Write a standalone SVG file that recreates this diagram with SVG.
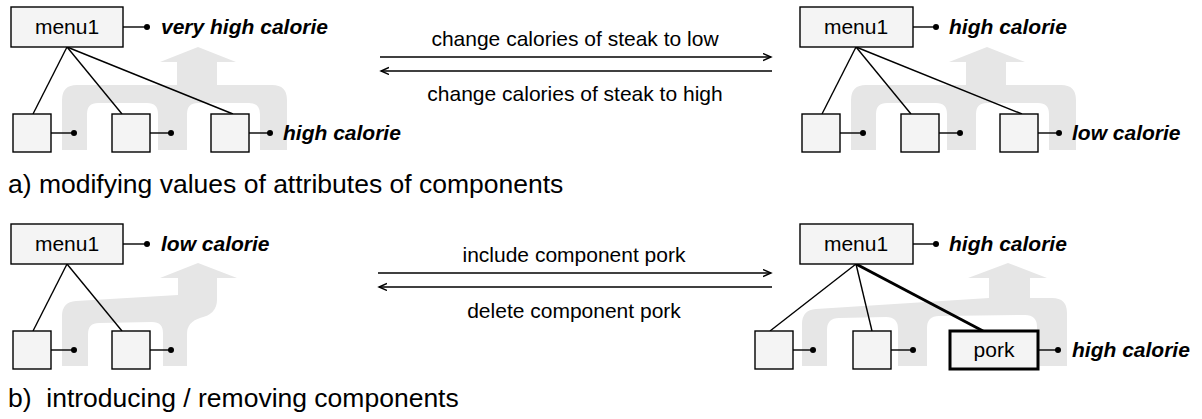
<svg xmlns="http://www.w3.org/2000/svg" width="1202" height="419" viewBox="0 0 1202 419">
<style>
.bg{fill:#ffffff}
.flow{fill:#e6e6e6;stroke:none}
.box{fill:#f4f4f4;stroke:#000;stroke-width:1.4}
.thick{fill:#f4f4f4;stroke:#000;stroke-width:3}
.ln{stroke:#000;stroke-width:1.4;fill:none}
.tl{stroke:#000;stroke-width:3;fill:none}
.dot{fill:#000}
.t{font-family:"Liberation Sans",Arial,sans-serif;font-size:21px;fill:#000}
.c{text-anchor:middle}
.attr{font-family:"Liberation Sans",Arial,sans-serif;font-size:21px;font-weight:bold;font-style:italic;fill:#000}
.cap{font-family:"Liberation Sans",Arial,sans-serif;font-size:26.5px;fill:#000}
</style>
<defs>
<marker id="ah" markerWidth="10" markerHeight="10" refX="8" refY="4" orient="auto" markerUnits="userSpaceOnUse">
<path d="M0,0.5 L8,4 L0,7.5" fill="none" stroke="#000" stroke-width="1.4"/>
</marker>
<path id="flow3" d="M62,150 L62,100 Q62,85 77,85 L177,85 L177,62 L160,62 L198,47 L236,62 L217,62 L217,85 L272,85 Q287,85 287,100 L287,150 L260,150 L260,114 Q260,103 249,103 L198,103 Q187,103 187,114 L187,150 L158,150 L158,114 Q158,103 147,103 L98,103 Q87,103 87,114 L87,150 Z"/>
</defs>
<rect class="bg" x="0" y="0" width="1202" height="419"/>

<g id="flows">
<use href="#flow3" class="flow"/>
<use href="#flow3" class="flow" transform="translate(789,0)"/>
<path class="flow" d="M62,366 L62,316 Q62,302 76,301 L178,295 L178,278 L160,278 L198,263 L237,278 L217,278 L217,300 Q217,314 200,318 Q187,322 187,334 L187,366 L163,366 L163,333 Q163,322 152,322 L99,323 Q88,323 88,334 L88,366 Z"/>
<path class="flow" d="M802,366 L802,324 Q802,310 816,309 L989,298 L989,278 L968,278 L1008,263 L1047,278 L1030,278 L1030,298 L1052,298 Q1067,298 1067,313 L1067,366 L1037,366 L1037,327 Q1037,315 1025,315 L939,316 Q927,316 927,328 L927,366 L898,366 L898,329 Q898,317 886,317 L839,318 Q827,318 827,330 L827,366 Z"/>
</g>

<g id="connectors">
<line class="ln" x1="67" y1="47" x2="33" y2="114"/>
<line class="ln" x1="67" y1="47" x2="122" y2="114"/>
<line class="ln" x1="67" y1="47" x2="233" y2="114"/>
<line class="ln" x1="856" y1="47" x2="822" y2="114"/>
<line class="ln" x1="856" y1="47" x2="911" y2="114"/>
<line class="ln" x1="856" y1="47" x2="1022" y2="114"/>
<line class="ln" x1="67" y1="264" x2="33" y2="331"/>
<line class="ln" x1="67" y1="264" x2="122" y2="331"/>
<line class="ln" x1="856" y1="264" x2="770" y2="331"/>
<line class="ln" x1="856" y1="264" x2="872" y2="331"/>
<line class="tl" x1="856" y1="264" x2="983" y2="331"/>
<line class="ln" x1="380" y1="57" x2="771" y2="57" marker-end="url(#ah)"/>
<line class="ln" x1="772" y1="71" x2="381" y2="71" marker-end="url(#ah)"/>
<line class="ln" x1="378" y1="273" x2="771" y2="273" marker-end="url(#ah)"/>
<line class="ln" x1="772" y1="287" x2="379" y2="287" marker-end="url(#ah)"/>
<text class="t c" x="575" y="46">change calories of steak to low</text>
<text class="t c" x="575" y="101">change calories of steak to high</text>
<text class="t c" x="574" y="262">include component pork</text>
<text class="t c" x="574" y="318">delete component pork</text>
</g>

<g id="tl-menu1">
<rect class="box" x="11" y="7" width="112" height="40"/>
<text class="t c" x="67" y="34">menu1</text>
<line class="ln" x1="123" y1="27" x2="147" y2="27"/><circle class="dot" cx="147" cy="27" r="3"/>
<text class="attr" x="161" y="34">very high calorie</text>
</g>
<g id="tl-c1"><rect class="box" x="13" y="114" width="38" height="38"/><line class="ln" x1="51" y1="133" x2="74" y2="133"/><circle class="dot" cx="74" cy="133" r="3"/></g>
<g id="tl-c2"><rect class="box" x="112" y="114" width="38" height="38"/><line class="ln" x1="150" y1="133" x2="171" y2="133"/><circle class="dot" cx="171" cy="133" r="3"/></g>
<g id="tl-c3"><rect class="box" x="211" y="114" width="38" height="38"/><line class="ln" x1="249" y1="133" x2="270" y2="133"/><circle class="dot" cx="270" cy="133" r="3"/>
<text class="attr" x="283" y="140">high calorie</text></g>

<g id="tr-menu1">
<rect class="box" x="800" y="7" width="113" height="40"/>
<text class="t c" x="856" y="34">menu1</text>
<line class="ln" x1="913" y1="27" x2="936" y2="27"/><circle class="dot" cx="936" cy="27" r="3"/>
<text class="attr" x="949" y="34">high calorie</text>
</g>
<g id="tr-c1"><rect class="box" x="802" y="114" width="38" height="38"/><line class="ln" x1="840" y1="133" x2="863" y2="133"/><circle class="dot" cx="863" cy="133" r="3"/></g>
<g id="tr-c2"><rect class="box" x="901" y="114" width="38" height="38"/><line class="ln" x1="939" y1="133" x2="960" y2="133"/><circle class="dot" cx="960" cy="133" r="3"/></g>
<g id="tr-c3"><rect class="box" x="1000" y="114" width="38" height="38"/><line class="ln" x1="1038" y1="133" x2="1059" y2="133"/><circle class="dot" cx="1059" cy="133" r="3"/>
<text class="attr" x="1072" y="140">low calorie</text></g>

<text class="cap" x="8" y="193">a) modifying values of attributes of components</text>

<g id="bl-menu1">
<rect class="box" x="11" y="224" width="112" height="40"/>
<text class="t c" x="67" y="251">menu1</text>
<line class="ln" x1="123" y1="244" x2="147" y2="244"/><circle class="dot" cx="147" cy="244" r="3"/>
<text class="attr" x="161" y="251">low calorie</text>
</g>
<g id="bl-c1"><rect class="box" x="13" y="331" width="38" height="38"/><line class="ln" x1="51" y1="350" x2="74" y2="350"/><circle class="dot" cx="74" cy="350" r="3"/></g>
<g id="bl-c2"><rect class="box" x="112" y="331" width="38" height="38"/><line class="ln" x1="150" y1="350" x2="171" y2="350"/><circle class="dot" cx="171" cy="350" r="3"/></g>

<g id="br-menu1">
<rect class="box" x="800" y="224" width="113" height="40"/>
<text class="t c" x="856" y="251">menu1</text>
<line class="ln" x1="913" y1="244" x2="936" y2="244"/><circle class="dot" cx="936" cy="244" r="3"/>
<text class="attr" x="949" y="251">high calorie</text>
</g>
<g id="br-c1"><rect class="box" x="755" y="331" width="38" height="38"/><line class="ln" x1="793" y1="350" x2="813" y2="350"/><circle class="dot" cx="813" cy="350" r="3"/></g>
<g id="br-c2"><rect class="box" x="853" y="331" width="38" height="38"/><line class="ln" x1="891" y1="350" x2="913" y2="350"/><circle class="dot" cx="913" cy="350" r="3"/></g>
<g id="br-pork"><rect class="thick" x="950" y="331" width="88" height="38"/>
<text class="t c" x="994" y="357">pork</text>
<line class="ln" x1="1039" y1="350" x2="1058" y2="350"/><circle class="dot" cx="1058" cy="350" r="3"/>
<text class="attr" x="1072" y="357">high calorie</text></g>

<text class="cap" x="8" y="407" xml:space="preserve">b)  introducing / removing components</text>
</svg>
